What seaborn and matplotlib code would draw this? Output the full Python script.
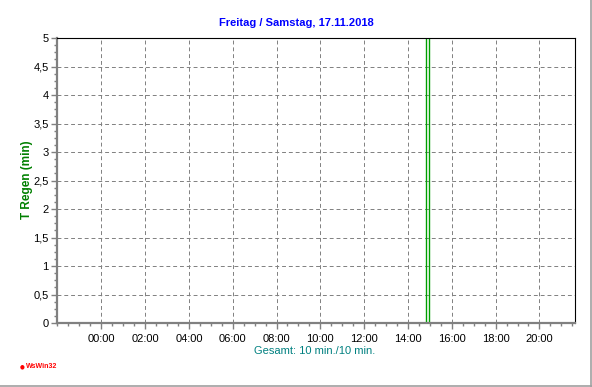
import numpy as np
import pandas as pd
import matplotlib
matplotlib.use("Agg")
import matplotlib.pyplot as plt
from matplotlib.lines import Line2D
from matplotlib.ticker import MultipleLocator, FixedLocator, FuncFormatter
import seaborn as sns

# ---- data ----
title_text = "Freitag / Samstag, 17.11.2018"
ylabel_text = "T Regen (min)"
total_text = "Gesamt: 10 min./10 min."
rain_time_h = [14.9]          # hour of day of the rain interval (centre)
rain_minutes = [10]           # rain duration in the interval (min)
bin_edges_h = [14.833, 14.967]  # 10-minute interval 14:50-15:00
xtick_hours = [0, 2, 4, 6, 8, 10, 12, 14, 16, 18, 20]
xtick_labels = ["00:00", "02:00", "04:00", "06:00", "08:00", "10:00",
                "12:00", "14:00", "16:00", "18:00", "20:00"]
yticks = [0, 0.5, 1, 1.5, 2, 2.5, 3, 3.5, 4, 4.5, 5]

sns.set_style("white")
plt.rcParams["font.family"] = ["Liberation Sans", "DejaVu Sans"]

fig = plt.figure(figsize=(5.92, 3.87), dpi=100)
fig.patch.set_facecolor("white")
ax = fig.add_axes([57/592, 1-323/387, (574.5-57)/592, (323-38)/387])

df = pd.DataFrame({"hour": rain_time_h, "minutes": rain_minutes})
sns.histplot(data=df, x="hour", weights="minutes", bins=bin_edges_h,
             fill=False, color="#00a000", linewidth=1.0, ax=ax)

ax.set_xlim(-2.02, 21.6)
ax.set_ylim(0, 5)
ax.set_xticks(xtick_hours)
ax.set_xticklabels(xtick_labels)
ax.xaxis.set_minor_locator(MultipleLocator(0.5))
ax.set_yticks(yticks)
ax.yaxis.set_major_formatter(FuncFormatter(lambda v, p: (f"{v:g}").replace(".", ",")))
ax.yaxis.set_minor_locator(MultipleLocator(0.125))

ax.set_xlabel("")
ax.set_ylabel("")
fig.text(27/592, 1-180/387, ylabel_text, rotation=90, ha="center", va="center",
         color="#008000", fontweight="bold", fontsize=8.5)

ax.tick_params(axis="both", which="major", direction="out", length=4, width=1,
               color="#808080", labelsize=8, labelcolor="black", pad=2)
ax.tick_params(axis="both", which="minor", direction="out", length=2.5, width=1,
               color="#808080")
ax.tick_params(axis="x", which="major", pad=4)
ax.tick_params(left=True, bottom=True, which="both")

ax.grid(True, which="major", color="#808080", linestyle=(0, (4, 3)), linewidth=0.7)
ax.set_axisbelow(True)

for side in ["left", "bottom"]:
    ax.spines[side].set_color("#808080")
    ax.spines[side].set_linewidth(1.6)
    ax.spines[side].set_visible(True)
for side in ["top", "right"]:
    ax.spines[side].set_color("black")
    ax.spines[side].set_linewidth(0.8)
    ax.spines[side].set_visible(True)

fig.text(296/592, 1-23/387, title_text, ha="center", va="center",
         color="#0000ff", fontweight="bold", fontsize=8)
fig.text(315/592, 1-351/387, total_text, ha="center", va="center",
         color="#008080", fontsize=8)
fig.text(20/592, 1-367/387, "\u25cf", ha="left", va="center", color="red", fontsize=4,
         family="DejaVu Sans")
fig.text(26/592, 1-367/387, "WsWin32", ha="left", va="center", color="red",
         fontsize=5, fontweight="bold")

# window-style frame (right and bottom edges)
fig.add_artist(Line2D([590.5/592, 590.5/592], [0, 1], transform=fig.transFigure,
                      color="#a0a0a0", linewidth=1.2))
fig.add_artist(Line2D([0, 1], [1-385.5/387, 1-385.5/387], transform=fig.transFigure,
                      color="#a0a0a0", linewidth=1.2))

fig.savefig("out.png", dpi=100)
